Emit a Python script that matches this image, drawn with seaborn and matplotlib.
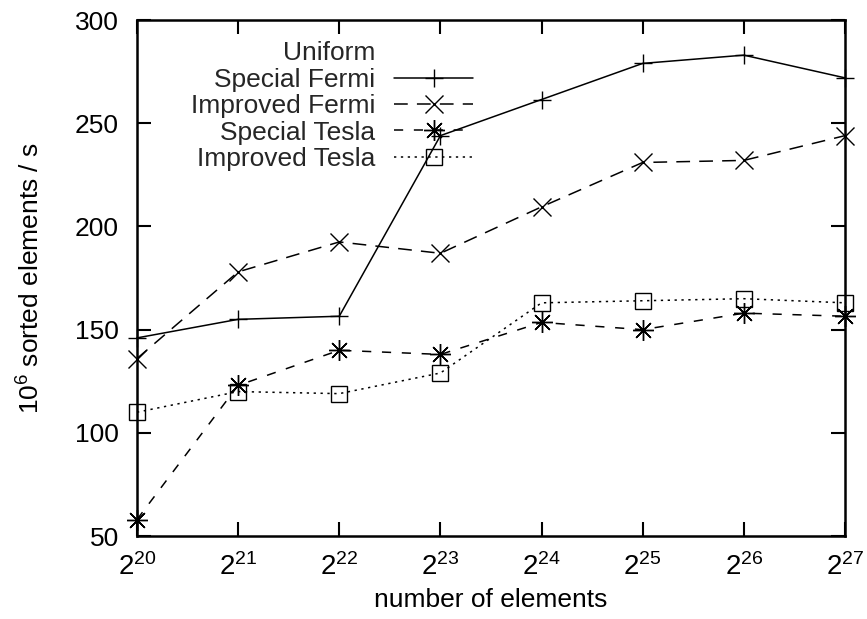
import matplotlib
matplotlib.use("Agg")
import matplotlib.pyplot as plt
import seaborn as sns
import pandas as pd
from matplotlib.lines import Line2D

exponents = [20, 21, 22, 23, 24, 25, 26, 27]
x_labels = [r"$2^{%d}$" % e for e in exponents]
special_fermi = [146, 155, 156.5, 244, 261.5, 279, 283, 272]
improved_fermi = [136, 178, 192.5, 187, 209.5, 231, 232, 244]
special_tesla = [58, 123, 140, 138, 153.5, 150, 158, 156.5]
improved_tesla = [110, 120, 119, 129, 163, 164, 165, 163]
y_ticks = [50, 100, 150, 200, 250, 300]

sns.set_theme(style="white")
plt.rcParams['font.family'] = ['Liberation Sans', 'DejaVu Sans']
plt.rcParams['mathtext.fontset'] = 'custom'
plt.rcParams['mathtext.rm'] = 'Liberation Sans'
plt.rcParams['mathtext.it'] = 'Liberation Sans'

FS = 19

fig = plt.figure(figsize=(8.67, 6.19), dpi=100)
ax = fig.add_axes([0.158, 0.134, 0.8166, 0.8336])

series = [
    ("Special Fermi", special_fermi, dict(marker='+', linestyle='-', markersize=13)),
    ("Improved Fermi", improved_fermi, dict(marker='x', linestyle=(0, (9, 6)), markersize=13)),
    ("Special Tesla", special_tesla, dict(marker=(8, 2, 0), linestyle=(0, (6, 7)), markersize=15)),
    ("Improved Tesla", improved_tesla, dict(marker='s', linestyle=(0, (1.5, 3)), markersize=12,
                                             markerfacecolor='none')),
]

handles = [Line2D([], [], color='none', label='Uniform')]
for name, vals, st in series:
    df = pd.DataFrame({"x": exponents, "y": vals})
    sns.lineplot(data=df, x="x", y="y", ax=ax, color='black', linewidth=1.1,
                 markeredgewidth=1.0, markeredgecolor='black', clip_on=False, **st)
    handles.append(Line2D([], [], color='black', linewidth=1.1, markeredgewidth=1.0,
                          markeredgecolor='black', label=name, **st))

ax.set_xlim(20, 27)
ax.set_ylim(50, 300)
ax.set_xticks(exponents)
ax.set_xticklabels(x_labels, fontsize=20)
ax.set_yticks(y_ticks)
ax.set_yticklabels([str(v) for v in y_ticks], fontsize=FS)
ax.tick_params(axis='both', direction='in', length=10, width=1.5, top=True, right=True,
               bottom=True, left=True, color='black', labelcolor='black')
ax.tick_params(axis='x', pad=12)
ax.tick_params(axis='y', pad=13)
for sp in ax.spines.values():
    sp.set_color('black')
    sp.set_linewidth(1.8)

ax.set_xlabel("number of elements", fontsize=FS, color='black', va='top')
ax.xaxis.set_label_coords(0.5, -0.1008)
ax.set_ylabel(r"10$^6$ sorted elements / s", fontsize=FS, color='black')
ax.yaxis.set_label_coords(-0.130, 0.5)

leg = ax.legend(handles=handles, loc='upper right', bbox_to_anchor=(0.49, 0.979),
                markerfirst=False, frameon=False, fontsize=FS, handlelength=3.0,
                labelspacing=0.09, handletextpad=0.72, borderaxespad=0)

fig.savefig("out.png", dpi=100)
